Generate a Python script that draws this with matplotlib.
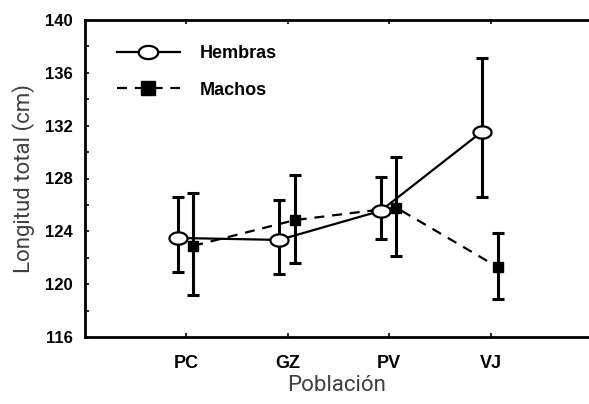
import matplotlib
matplotlib.use("Agg")
import matplotlib.pyplot as plt
import numpy as np
from matplotlib.path import Path

# datos
poblaciones = ["PC", "GZ", "PV", "VJ"]
hembras = [123.5, 123.35, 125.55, 131.55]
hembras_sup = [126.6, 126.4, 128.15, 137.1]
hembras_inf = [120.9, 120.75, 123.4, 126.6]
machos = [122.9, 124.85, 125.8, 121.3]
machos_sup = [126.9, 128.3, 129.6, 123.9]
machos_inf = [119.2, 121.6, 122.15, 118.85]

# marcador eliptico (circulo achatado)
t = np.linspace(0, 2 * np.pi, 80)
elipse = Path(np.column_stack([np.cos(t), 0.68 * np.sin(t)]), closed=True)

fig = plt.figure(figsize=(5.89, 4.04), dpi=100)
ax = fig.add_axes([85 / 589, 67 / 404, 1 - 85 / 589, 317 / 404])

x = np.arange(1, len(poblaciones) + 1)
xh = x - 0.085
xm = x + 0.068

h = np.array(hembras)
m = np.array(machos)
err_h = [h - np.array(hembras_inf), np.array(hembras_sup) - h]
err_m = [m - np.array(machos_inf), np.array(machos_sup) - m]

ax.errorbar(xh, h, yerr=err_h, fmt="none", ecolor="black", elinewidth=2.2,
            capsize=4.5, capthick=2.2, zorder=2)
ax.errorbar(xm, m, yerr=err_m, fmt="none", ecolor="black", elinewidth=2.2,
            capsize=4.5, capthick=2.2, zorder=2)

ax.plot(xh, h, color="black", linewidth=1.6, marker=elipse, markersize=13,
        markerfacecolor="white", markeredgecolor="black", markeredgewidth=1.6,
        label="Hembras", zorder=4)
ax.plot(xm, m, color="black", linewidth=1.6, linestyle=(0, (4.5, 3.5)), marker="s",
        markersize=7, markerfacecolor="black", markeredgecolor="black",
        label="Machos", zorder=3)

ax.set_xlim(0, 4.97)
ax.set_ylim(116, 140)
ax.set_xticks(x)
ax.set_xticklabels(poblaciones)
ax.set_yticks(np.arange(116, 141, 4))
ax.set_yticks(np.arange(116, 141, 2), minor=True)

for s in ["left", "top", "bottom"]:
    ax.spines[s].set_linewidth(2)
ax.spines["right"].set_visible(False)

ax.tick_params(axis="x", direction="in", top=True, length=3, width=1.2, pad=13)
ax.tick_params(axis="y", which="both", direction="in", length=3, width=1.2, pad=9)

for lab in ax.get_xticklabels():
    lab.set_fontfamily("Liberation Sans")
    lab.set_fontweight("bold")
    lab.set_fontsize(13)
for lab in ax.get_yticklabels():
    lab.set_fontfamily("Liberation Sans")
    lab.set_fontweight("bold")
    lab.set_fontsize(12)

ax.set_xlabel("Población", fontfamily="Roboto", fontsize=16, color="#404040", labelpad=2)
ax.set_ylabel("Longitud total (cm)", fontfamily="Roboto", fontsize=16, color="#404040", labelpad=7)

leg = ax.legend(loc="upper left", bbox_to_anchor=(0.045, 0.95), frameon=False,
                handlelength=3.5, handletextpad=1.1, labelspacing=1.1,
                borderpad=0, prop={"family": "Liberation Sans", "weight": "bold", "size": 13})
leg.legend_handles[0].set_markersize(14)
leg.legend_handles[1].set_markersize(10)

fig.savefig("out.png", dpi=100)
